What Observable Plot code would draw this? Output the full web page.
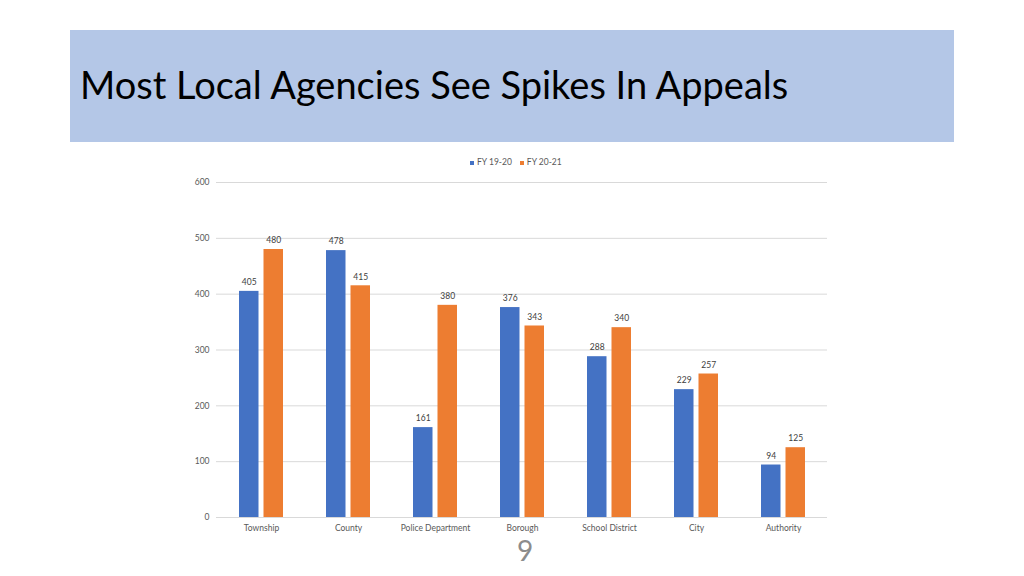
<!DOCTYPE html>
<html>
<head>
<meta charset="utf-8">
<script src="https://cdn.jsdelivr.net/npm/d3@7"></script>
<script src="https://cdn.jsdelivr.net/npm/@observablehq/plot@0.6"></script>
<style>
  html, body { margin: 0; padding: 0; background: #ffffff; }
  body { width: 1024px; height: 576px; position: relative; overflow: hidden; font-family: Lato, "Open Sans", sans-serif; }
  #banner { position: absolute; left: 70px; top: 30px; width: 884px; height: 112px; background: #b4c7e7; }
  #title { position: absolute; left: 80px; top: 60px; font-size: 38px; color: #000; white-space: nowrap; line-height: 48px; }
  #legend { position: absolute; top: 155px; left: 470px; font-size: 8.5px; color: #595959; display: flex; align-items: center; gap: 8px; line-height: 14px; }
  #legend span.sw { display: inline-block; width: 4px; height: 4px; margin-right: 3px; vertical-align: middle; }
  #chart { position: absolute; left: 0; top: 140px; }
  #page { position: absolute; left: 0; width: 1050px; top: 533px; text-align: center; font-size: 28px; color: #8c8c8c; line-height: 34px; }
</style>
</head>
<body>
<div id="banner"></div>
<div id="title">Most Local Agencies See Spikes In Appeals</div>
<div id="legend"></div>
<div id="chart"></div>
<div id="page">9</div>
<script>
const categories = ["Township", "County", "Police Department", "Borough", "School District", "City", "Authority"];
const seriesNames = ["FY 19-20", "FY 20-21"];
const fy1920 = [405, 478, 161, 376, 288, 229, 94];
const fy2021 = [480, 415, 380, 343, 340, 257, 125];
const yTicks = [0, 100, 200, 300, 400, 500, 600];
const colors = ["#4472c4", "#ed7d31"];

const rows1 = categories.map((c, i) => ({cat: c, value: fy1920[i]}));
const rows2 = categories.map((c, i) => ({cat: c, value: fy2021[i]}));

const legend = document.getElementById("legend");
seriesNames.forEach((s, i) => {
  const item = document.createElement("span");
  const sw = document.createElement("span");
  sw.className = "sw";
  sw.style.background = colors[i];
  item.appendChild(sw);
  item.appendChild(document.createTextNode(s));
  legend.appendChild(item);
});

const inset = 24.5;
const chart = Plot.plot({
  width: 1024,
  height: 420,
  marginLeft: 216,
  marginRight: 197,
  marginTop: 42,
  marginBottom: 43,
  style: {fontFamily: "Lato, 'Open Sans', sans-serif", fontSize: "8.5px", color: "#595959", background: "transparent"},
  x: {domain: categories, paddingInner: 0.5, paddingOuter: 0.25, label: null, tickSize: 0, tickPadding: 7},
  y: {domain: [0, 600], ticks: yTicks, label: null, tickSize: 0, tickPadding: 7},
  marks: [
    Plot.ruleY(yTicks, {stroke: "#d9d9d9", strokeWidth: 1}),
    Plot.barY(rows1, {x: "cat", y: "value", fill: colors[0], insetRight: inset}),
    Plot.barY(rows2, {x: "cat", y: "value", fill: colors[1], insetLeft: inset}),
    Plot.text(rows1, {x: "cat", y: "value", text: d => String(d.value), dx: -inset / 2, dy: -9, fill: "#404040", fontSize: 8.5}),
    Plot.text(rows2, {x: "cat", y: "value", text: d => String(d.value), dx: inset / 2, dy: -9, fill: "#404040", fontSize: 8.5})
  ]
});
document.getElementById("chart").appendChild(chart);
</script>
</body>
</html>
